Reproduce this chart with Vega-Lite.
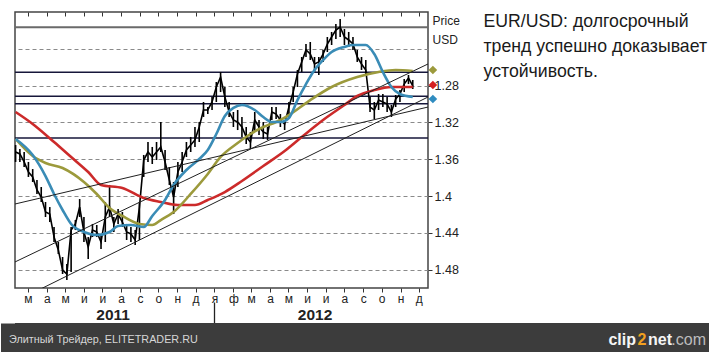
{
  "$schema": "https://vega.github.io/schema/vega-lite/v6.json",
  "background": "white",
  "padding": {"left": 0, "top": 10, "right": 0, "bottom": 0},
  "columns": 1,
  "align": "none",
  "spacing": -4,
  "config": {
    "font": "Liberation Sans",
    "view": {"stroke": null},
    "axis": {"labelFont": "Liberation Sans", "titleFont": "Liberation Sans"}
  },
  "datasets": {
    "price": [
      {"date": "2011-02-09", "min": 1.3446, "max": 1.3630, "close": 1.3522},
      {"date": "2011-02-16", "min": 1.3489, "max": 1.3630, "close": 1.3543},
      {"date": "2011-02-23", "min": 1.3522, "max": 1.3685, "close": 1.3630},
      {"date": "2011-03-02", "min": 1.3630, "max": 1.3793, "close": 1.3739},
      {"date": "2011-03-09", "min": 1.3707, "max": 1.3848, "close": 1.3793},
      {"date": "2011-03-16", "min": 1.3826, "max": 1.3978, "close": 1.3935},
      {"date": "2011-03-23", "min": 1.3902, "max": 1.4065, "close": 1.4011},
      {"date": "2011-03-30", "min": 1.4065, "max": 1.4228, "close": 1.4174},
      {"date": "2011-04-06", "min": 1.4120, "max": 1.4283, "close": 1.4196},
      {"date": "2011-04-13", "min": 1.4337, "max": 1.4500, "close": 1.4446},
      {"date": "2011-04-20", "min": 1.4500, "max": 1.4630, "close": 1.4587},
      {"date": "2011-04-27", "min": 1.4663, "max": 1.4848, "close": 1.4804},
      {"date": "2011-05-04", "min": 1.4739, "max": 1.4913, "close": 1.4848},
      {"date": "2011-05-11", "min": 1.4337, "max": 1.4826, "close": 1.4370},
      {"date": "2011-05-18", "min": 1.4261, "max": 1.4370, "close": 1.4304},
      {"date": "2011-05-25", "min": 1.4033, "max": 1.4228, "close": 1.4120},
      {"date": "2011-06-01", "min": 1.4228, "max": 1.4500, "close": 1.4391},
      {"date": "2011-06-08", "min": 1.4446, "max": 1.4685, "close": 1.4554},
      {"date": "2011-06-15", "min": 1.4304, "max": 1.4446, "close": 1.4370},
      {"date": "2011-06-22", "min": 1.4315, "max": 1.4446, "close": 1.4391},
      {"date": "2011-06-29", "min": 1.4413, "max": 1.4576, "close": 1.4500},
      {"date": "2011-07-06", "min": 1.4065, "max": 1.4500, "close": 1.4228},
      {"date": "2011-07-13", "min": 1.3880, "max": 1.4228, "close": 1.4120},
      {"date": "2011-07-20", "min": 1.4228, "max": 1.4391, "close": 1.4304},
      {"date": "2011-07-27", "min": 1.4141, "max": 1.4304, "close": 1.4196},
      {"date": "2011-08-03", "min": 1.4174, "max": 1.4337, "close": 1.4283},
      {"date": "2011-08-10", "min": 1.4304, "max": 1.4478, "close": 1.4391},
      {"date": "2011-08-17", "min": 1.4337, "max": 1.4500, "close": 1.4413},
      {"date": "2011-08-24", "min": 1.4370, "max": 1.4533, "close": 1.4478},
      {"date": "2011-08-31", "min": 1.4065, "max": 1.4478, "close": 1.4120},
      {"date": "2011-09-07", "min": 1.3554, "max": 1.3793, "close": 1.3609},
      {"date": "2011-09-14", "min": 1.3413, "max": 1.3630, "close": 1.3522},
      {"date": "2011-09-21", "min": 1.3467, "max": 1.3652, "close": 1.3576},
      {"date": "2011-09-28", "min": 1.3413, "max": 1.3609, "close": 1.3522},
      {"date": "2011-10-05", "min": 1.3196, "max": 1.3522, "close": 1.3467},
      {"date": "2011-10-12", "min": 1.3500, "max": 1.3717, "close": 1.3630},
      {"date": "2011-10-19", "min": 1.3685, "max": 1.3880, "close": 1.3826},
      {"date": "2011-10-26", "min": 1.3848, "max": 1.4196, "close": 1.4011},
      {"date": "2011-11-02", "min": 1.3630, "max": 1.3902, "close": 1.3739},
      {"date": "2011-11-09", "min": 1.3522, "max": 1.3739, "close": 1.3630},
      {"date": "2011-11-16", "min": 1.3413, "max": 1.3576, "close": 1.3500},
      {"date": "2011-11-23", "min": 1.3359, "max": 1.3522, "close": 1.3446},
      {"date": "2011-11-30", "min": 1.3250, "max": 1.3467, "close": 1.3391},
      {"date": "2011-12-07", "min": 1.3196, "max": 1.3413, "close": 1.3250},
      {"date": "2011-12-14", "min": 1.2978, "max": 1.3141, "close": 1.3065},
      {"date": "2011-12-21", "min": 1.3033, "max": 1.3109, "close": 1.3065},
      {"date": "2011-12-28", "min": 1.2924, "max": 1.3065, "close": 1.2978},
      {"date": "2012-01-04", "min": 1.2761, "max": 1.2978, "close": 1.2815},
      {"date": "2012-01-11", "min": 1.2652, "max": 1.2870, "close": 1.2707},
      {"date": "2012-01-18", "min": 1.2815, "max": 1.3033, "close": 1.2924},
      {"date": "2012-01-25", "min": 1.2978, "max": 1.3141, "close": 1.3087},
      {"date": "2012-02-01", "min": 1.3087, "max": 1.3250, "close": 1.3174},
      {"date": "2012-02-08", "min": 1.3065, "max": 1.3283, "close": 1.3196},
      {"date": "2012-02-15", "min": 1.3141, "max": 1.3359, "close": 1.3250},
      {"date": "2012-02-22", "min": 1.3250, "max": 1.3435, "close": 1.3359},
      {"date": "2012-02-29", "min": 1.3304, "max": 1.3489, "close": 1.3413},
      {"date": "2012-03-07", "min": 1.3087, "max": 1.3304, "close": 1.3174},
      {"date": "2012-03-14", "min": 1.3174, "max": 1.3337, "close": 1.3250},
      {"date": "2012-03-21", "min": 1.3196, "max": 1.3380, "close": 1.3304},
      {"date": "2012-03-28", "min": 1.3250, "max": 1.3391, "close": 1.3326},
      {"date": "2012-04-04", "min": 1.3033, "max": 1.3174, "close": 1.3087},
      {"date": "2012-04-11", "min": 1.3033, "max": 1.3163, "close": 1.3109},
      {"date": "2012-04-18", "min": 1.3109, "max": 1.3250, "close": 1.3174},
      {"date": "2012-04-25", "min": 1.3174, "max": 1.3283, "close": 1.3217},
      {"date": "2012-05-02", "min": 1.2978, "max": 1.3141, "close": 1.3033},
      {"date": "2012-05-09", "min": 1.2815, "max": 1.2978, "close": 1.2870},
      {"date": "2012-05-16", "min": 1.2630, "max": 1.2815, "close": 1.2674},
      {"date": "2012-05-23", "min": 1.2489, "max": 1.2652, "close": 1.2543},
      {"date": "2012-05-30", "min": 1.2348, "max": 1.2489, "close": 1.2413},
      {"date": "2012-06-06", "min": 1.2326, "max": 1.2522, "close": 1.2457},
      {"date": "2012-06-13", "min": 1.2489, "max": 1.2652, "close": 1.2565},
      {"date": "2012-06-20", "min": 1.2489, "max": 1.2685, "close": 1.2543},
      {"date": "2012-06-27", "min": 1.2413, "max": 1.2543, "close": 1.2457},
      {"date": "2012-07-04", "min": 1.2272, "max": 1.2435, "close": 1.2348},
      {"date": "2012-07-11", "min": 1.2217, "max": 1.2359, "close": 1.2272},
      {"date": "2012-07-18", "min": 1.2130, "max": 1.2293, "close": 1.2196},
      {"date": "2012-07-25", "min": 1.2076, "max": 1.2272, "close": 1.2163},
      {"date": "2012-08-01", "min": 1.2185, "max": 1.2359, "close": 1.2272},
      {"date": "2012-08-08", "min": 1.2217, "max": 1.2380, "close": 1.2304},
      {"date": "2012-08-15", "min": 1.2272, "max": 1.2413, "close": 1.2348},
      {"date": "2012-08-22", "min": 1.2413, "max": 1.2543, "close": 1.2489},
      {"date": "2012-08-29", "min": 1.2489, "max": 1.2630, "close": 1.2565},
      {"date": "2012-09-05", "min": 1.2522, "max": 1.2674, "close": 1.2630},
      {"date": "2012-09-12", "min": 1.2924, "max": 1.3087, "close": 1.3033},
      {"date": "2012-09-19", "min": 1.2978, "max": 1.3163, "close": 1.3065},
      {"date": "2012-09-26", "min": 1.2891, "max": 1.3065, "close": 1.2957},
      {"date": "2012-10-03", "min": 1.2891, "max": 1.3033, "close": 1.2978},
      {"date": "2012-10-10", "min": 1.2924, "max": 1.3087, "close": 1.3000},
      {"date": "2012-10-17", "min": 1.3011, "max": 1.3141, "close": 1.3087},
      {"date": "2012-10-24", "min": 1.2902, "max": 1.3033, "close": 1.2946},
      {"date": "2012-10-31", "min": 1.2848, "max": 1.2978, "close": 1.2891},
      {"date": "2012-11-07", "min": 1.2728, "max": 1.2870, "close": 1.2783},
      {"date": "2012-11-14", "min": 1.2685, "max": 1.2783, "close": 1.2717},
      {"date": "2012-11-21", "min": 1.2739, "max": 1.2837, "close": 1.2804}
    ],
    "ma": [
      {"series": "red", "date": "2011-02-09", "value": 1.3087},
      {"series": "red", "date": "2011-03-09", "value": 1.3217},
      {"series": "red", "date": "2011-04-13", "value": 1.3413},
      {"series": "red", "date": "2011-05-11", "value": 1.3576},
      {"series": "red", "date": "2011-06-08", "value": 1.3739},
      {"series": "red", "date": "2011-06-29", "value": 1.3880},
      {"series": "red", "date": "2011-08-03", "value": 1.3913},
      {"series": "red", "date": "2011-09-07", "value": 1.4022},
      {"series": "red", "date": "2011-10-05", "value": 1.4065},
      {"series": "red", "date": "2011-11-02", "value": 1.4098},
      {"series": "red", "date": "2011-11-30", "value": 1.4098},
      {"series": "red", "date": "2011-12-21", "value": 1.4043},
      {"series": "red", "date": "2012-01-18", "value": 1.3957},
      {"series": "red", "date": "2012-02-15", "value": 1.3837},
      {"series": "red", "date": "2012-03-21", "value": 1.3674},
      {"series": "red", "date": "2012-04-25", "value": 1.3511},
      {"series": "red", "date": "2012-05-23", "value": 1.3359},
      {"series": "red", "date": "2012-06-27", "value": 1.3174},
      {"series": "red", "date": "2012-08-01", "value": 1.3011},
      {"series": "red", "date": "2012-08-22", "value": 1.2913},
      {"series": "red", "date": "2012-09-19", "value": 1.2848},
      {"series": "red", "date": "2012-10-17", "value": 1.2815},
      {"series": "red", "date": "2012-11-21", "value": 1.2815},
      {"series": "olive", "date": "2011-02-09", "value": 1.3380},
      {"series": "olive", "date": "2011-03-09", "value": 1.3565},
      {"series": "olive", "date": "2011-03-30", "value": 1.3641},
      {"series": "olive", "date": "2011-04-27", "value": 1.3696},
      {"series": "olive", "date": "2011-06-01", "value": 1.3848},
      {"series": "olive", "date": "2011-06-22", "value": 1.3978},
      {"series": "olive", "date": "2011-07-13", "value": 1.4130},
      {"series": "olive", "date": "2011-08-03", "value": 1.4217},
      {"series": "olive", "date": "2011-08-31", "value": 1.4304},
      {"series": "olive", "date": "2011-09-21", "value": 1.4315},
      {"series": "olive", "date": "2011-10-05", "value": 1.4261},
      {"series": "olive", "date": "2011-10-26", "value": 1.4174},
      {"series": "olive", "date": "2011-11-23", "value": 1.3978},
      {"series": "olive", "date": "2011-12-21", "value": 1.3761},
      {"series": "olive", "date": "2012-01-11", "value": 1.3576},
      {"series": "olive", "date": "2012-02-08", "value": 1.3424},
      {"series": "olive", "date": "2012-02-29", "value": 1.3326},
      {"series": "olive", "date": "2012-03-21", "value": 1.3250},
      {"series": "olive", "date": "2012-04-11", "value": 1.3196},
      {"series": "olive", "date": "2012-05-02", "value": 1.3120},
      {"series": "olive", "date": "2012-06-06", "value": 1.2957},
      {"series": "olive", "date": "2012-07-11", "value": 1.2815},
      {"series": "olive", "date": "2012-08-22", "value": 1.2707},
      {"series": "olive", "date": "2012-09-26", "value": 1.2652},
      {"series": "olive", "date": "2012-10-24", "value": 1.2630},
      {"series": "olive", "date": "2012-11-21", "value": 1.2641},
      {"series": "blue", "date": "2011-02-09", "value": 1.3380},
      {"series": "blue", "date": "2011-03-09", "value": 1.3554},
      {"series": "blue", "date": "2011-03-30", "value": 1.3783},
      {"series": "blue", "date": "2011-04-13", "value": 1.3978},
      {"series": "blue", "date": "2011-04-27", "value": 1.4152},
      {"series": "blue", "date": "2011-05-11", "value": 1.4304},
      {"series": "blue", "date": "2011-06-01", "value": 1.4391},
      {"series": "blue", "date": "2011-06-22", "value": 1.4424},
      {"series": "blue", "date": "2011-07-13", "value": 1.4391},
      {"series": "blue", "date": "2011-07-27", "value": 1.4326},
      {"series": "blue", "date": "2011-08-17", "value": 1.4315},
      {"series": "blue", "date": "2011-09-07", "value": 1.4337},
      {"series": "blue", "date": "2011-09-21", "value": 1.4217},
      {"series": "blue", "date": "2011-10-12", "value": 1.4043},
      {"series": "blue", "date": "2011-10-26", "value": 1.3880},
      {"series": "blue", "date": "2011-11-16", "value": 1.3717},
      {"series": "blue", "date": "2011-12-07", "value": 1.3598},
      {"series": "blue", "date": "2011-12-21", "value": 1.3500},
      {"series": "blue", "date": "2012-01-04", "value": 1.3326},
      {"series": "blue", "date": "2012-01-18", "value": 1.3130},
      {"series": "blue", "date": "2012-02-01", "value": 1.3043},
      {"series": "blue", "date": "2012-02-15", "value": 1.3011},
      {"series": "blue", "date": "2012-03-07", "value": 1.3065},
      {"series": "blue", "date": "2012-03-21", "value": 1.3141},
      {"series": "blue", "date": "2012-04-04", "value": 1.3196},
      {"series": "blue", "date": "2012-04-18", "value": 1.3196},
      {"series": "blue", "date": "2012-05-02", "value": 1.3152},
      {"series": "blue", "date": "2012-05-16", "value": 1.2957},
      {"series": "blue", "date": "2012-05-30", "value": 1.2783},
      {"series": "blue", "date": "2012-06-13", "value": 1.2630},
      {"series": "blue", "date": "2012-06-27", "value": 1.2522},
      {"series": "blue", "date": "2012-07-11", "value": 1.2435},
      {"series": "blue", "date": "2012-08-01", "value": 1.2380},
      {"series": "blue", "date": "2012-08-15", "value": 1.2359},
      {"series": "blue", "date": "2012-09-05", "value": 1.2359},
      {"series": "blue", "date": "2012-09-19", "value": 1.2457},
      {"series": "blue", "date": "2012-10-03", "value": 1.2652},
      {"series": "blue", "date": "2012-10-17", "value": 1.2815},
      {"series": "blue", "date": "2012-10-31", "value": 1.2891},
      {"series": "blue", "date": "2012-11-21", "value": 1.2924}
    ],
    "ends": [
      {"series": "olive", "date": "2012-12-24", "value": 1.2630},
      {"series": "red", "date": "2012-12-24", "value": 1.2793},
      {"series": "blue", "date": "2012-12-24", "value": 1.2946}
    ],
    "levels": [
      {"kind": "top", "level": 1.2166},
      {"kind": "sr", "level": 1.2655},
      {"kind": "sr", "level": 1.2916},
      {"kind": "sr", "level": 1.2997},
      {"kind": "sr", "level": 1.3370}
    ],
    "trend": [
      {"line": "A", "date": "2011-02-08", "value": 1.4087},
      {"line": "A", "date": "2012-12-16", "value": 1.3033},
      {"line": "B", "date": "2011-02-08", "value": 1.4717},
      {"line": "B", "date": "2012-12-16", "value": 1.2565},
      {"line": "C", "date": "2011-03-22", "value": 1.5011},
      {"line": "C", "date": "2012-12-16", "value": 1.2924}
    ],
    "note": [
      {"label": "EUR/USD: долгосрочный\nтренд успешно доказывает\nустойчивость."}
    ],
    "footer": [
      {"side": "left", "part": "site", "label": "Элитный Трейдер, ELITETRADER.RU"},
      {"side": "right", "part": "com", "label": ".com"},
      {"side": "right", "part": "net", "label": "net"},
      {"side": "right", "part": "two", "label": "2"},
      {"side": "right", "part": "clip", "label": "clip"}
    ]
  },
  "concat": [
    {
      "spacing": 22,
      "hconcat": [
        {
          "width": 413,
          "height": 276,
          "view": {"stroke": "#444444", "strokeWidth": 1.5},
          "resolve": {
            "scale": {"color": "independent", "size": "independent"},
            "axis": {"x": "independent", "y": "independent"}
          },
          "layer": [
            {
              "data": {"name": "levels"},
              "mark": {"type": "rule"},
              "encoding": {
                "y": {
                  "field": "level", "type": "quantitative",
                  "scale": {"domain": [1.2, 1.5], "reverse": true, "zero": false, "nice": false},
                  "axis": {
                    "orient": "right",
                    "values": [1.24, 1.28, 1.32, 1.36, 1.4, 1.44, 1.48],
                    "labelExpr": "datum.value < 1.26 ? '' : format(datum.value, '.2~f')",
                    "grid": true,
                    "gridDash": [4, 3],
                    "gridColor": "#8a8a8a",
                    "gridWidth": 1,
                    "domain": false,
                    "tickSize": 4,
                    "tickColor": {"condition": {"test": "datum.value < 1.26", "value": "transparent"}, "value": "#333333"},
                    "labelFontSize": 12.5,
                    "labelColor": "#222222",
                    "labelPadding": 2,
                    "title": ["Price", "USD"],
                    "titleAngle": 0,
                    "titleAlign": "left",
                    "titleBaseline": "top",
                    "titleX": 4,
                    "titleY": 3,
                    "titleFontSize": 12,
                    "titleFontWeight": "normal",
                    "titleColor": "#222222",
                    "titleLineHeight": 19
                  }
                },
                "color": {"field": "kind", "type": "nominal", "scale": {"domain": ["top", "sr"], "range": ["#6a6a6a", "#16163a"]}, "legend": null},
                "size": {"field": "kind", "type": "nominal", "scale": {"domain": ["top", "sr"], "range": [2, 1.4]}, "legend": null}
              }
            },
            {
              "data": {"name": "price"},
              "mark": {"type": "rule", "color": "#000000", "strokeWidth": 1.6},
              "encoding": {
                "x": {
                  "field": "date", "type": "temporal",
                  "scale": {"type": "utc", "domain": [{"year": 2011, "month": 2, "date": 8, "utc": true}, {"year": 2012, "month": 12, "date": 16, "utc": true}]},
                  "axis": {
                    "orient": "bottom",
                    "tickCount": {"interval": "month", "step": 1},
                    "labelExpr": "['я','ф','м','а','м','и','и','а','с','о','н','д'][utcmonth(datum.value)]",
                    "grid": false,
                    "domain": false,
                    "tickSize": 4,
                    "tickColor": "#333333",
                    "labelFontSize": 12,
                    "labelColor": "#222222",
                    "labelPadding": 1,
                    "labelFlush": false,
                    "labelOverlap": false,
                    "title": null
                  }
                },
                "y": {"field": "min", "type": "quantitative", "axis": null},
                "y2": {"field": "max"}
              }
            },
            {
              "data": {"name": "price"},
              "mark": {"type": "line", "color": "#000000", "strokeWidth": 1.6},
              "encoding": {
                "x": {"field": "date", "type": "temporal", "axis": null},
                "y": {"field": "close", "type": "quantitative", "axis": null}
              }
            },
            {
              "data": {"name": "ma"},
              "mark": {"type": "line", "strokeWidth": 2.6, "interpolate": "monotone"},
              "encoding": {
                "x": {
                  "field": "date", "type": "temporal",
                  "axis": {
                    "orient": "bottom",
                    "offset": 14,
                    "values": [
                      {"year": 2011, "month": 7, "date": 18, "utc": true},
                      {"year": 2012, "month": 1, "date": 1, "utc": true},
                      {"year": 2012, "month": 6, "date": 13, "utc": true}
                    ],
                    "labelExpr": "utcmonth(datum.value) == 0 ? '' : utcFormat(datum.value, '%Y')",
                    "grid": false,
                    "domain": false,
                    "tickSize": 23,
                    "tickWidth": 1.3,
                    "tickColor": {"condition": {"test": "utcmonth(datum.value) == 0", "value": "#222222"}, "value": "transparent"},
                    "labelFontSize": 15.5,
                    "labelFontWeight": "bold",
                    "labelColor": "#222222",
                    "labelPadding": -18,
                    "labelFlush": false,
                    "labelOverlap": false,
                    "title": null
                  }
                },
                "y": {"field": "value", "type": "quantitative", "axis": null},
                "color": {"field": "series", "type": "nominal", "scale": {"domain": ["olive", "red", "blue"], "range": ["#9c9a3c", "#cc2a2a", "#3a8cb6"]}, "legend": null},
                "order": {"field": "date", "type": "temporal"}
              }
            },
            {
              "data": {"name": "trend"},
              "mark": {"type": "line", "color": "#202020", "strokeWidth": 1, "clip": true},
              "encoding": {
                "x": {
                  "field": "date", "type": "temporal",
                  "axis": {
                    "orient": "top",
                    "offset": -4,
                    "tickCount": {"interval": "month", "step": 1},
                    "labels": false,
                    "grid": false,
                    "domain": false,
                    "tickSize": 4,
                    "tickColor": "#333333",
                    "title": null
                  }
                },
                "y": {
                  "field": "value", "type": "quantitative",
                  "axis": {
                    "orient": "left",
                    "values": [1.2],
                    "labels": false,
                    "grid": false,
                    "domain": false,
                    "tickSize": 14,
                    "tickOpacity": 0,
                    "minExtent": 14,
                    "maxExtent": 14,
                    "title": null
                  }
                },
                "detail": {"field": "line", "type": "nominal"}
              }
            },
            {
              "data": {"name": "ends"},
              "mark": {"type": "point", "shape": "diamond", "filled": true, "opacity": 1, "size": 75, "clip": false},
              "encoding": {
                "x": {"field": "date", "type": "temporal", "axis": null},
                "y": {"field": "value", "type": "quantitative", "axis": null},
                "color": {"field": "series", "type": "nominal", "scale": {"domain": ["olive", "red", "blue"], "range": ["#9c9a3c", "#d41f1f", "#2f8cc0"]}, "legend": null}
              }
            }
          ]
        },
        {
          "width": 1,
          "height": 20,
          "data": {"name": "note"},
          "mark": {"type": "text", "align": "left", "baseline": "middle", "lineBreak": "\n", "fontSize": 17.7, "lineHeight": 25, "color": "#1a1a1a", "font": "Liberation Sans"},
          "encoding": {"text": {"field": "label", "type": "nominal"}}
        }
      ]
    },
    {
      "width": 695,
      "height": 29,
      "view": {"fill": "#3c3c3c", "stroke": null},
      "data": {"name": "footer"},
      "encoding": {
        "x": {"field": "side", "type": "nominal", "scale": {"type": "point", "domain": ["left", "right"], "padding": 0}, "axis": null},
        "y": {
          "datum": "bar", "type": "nominal",
          "scale": {"type": "point", "domain": ["bar"], "padding": 0.5},
          "axis": {
            "orient": "left",
            "offset": 7,
            "domain": true,
            "domainColor": "#3c3c3c",
            "domainWidth": 15,
            "ticks": false,
            "labels": false,
            "grid": false,
            "title": null
          }
        },
        "text": {"field": "label"}
      },
      "layer": [
        {
          "transform": [{"filter": "datum.part == 'site'"}],
          "mark": {"type": "text", "align": "left", "dx": -6, "dy": 2, "fontSize": 10.8, "color": "#d6d6d6", "font": "Liberation Sans"}
        },
        {
          "transform": [{"filter": "datum.part == 'com'"}],
          "mark": {"type": "text", "align": "right", "dx": -4, "dy": 2, "fontSize": 16, "color": "#bdbdbd", "font": "Liberation Sans"}
        },
        {
          "transform": [{"filter": "datum.part == 'net'"}],
          "mark": {"type": "text", "align": "right", "dx": -38, "dy": 2, "fontSize": 16, "fontWeight": "bold", "color": "#f5f5f5", "font": "Liberation Sans"}
        },
        {
          "transform": [{"filter": "datum.part == 'two'"}],
          "mark": {"type": "text", "align": "center", "dx": -68, "dy": 2, "fontSize": 16, "fontWeight": "bold", "color": "#f0a020", "font": "Liberation Sans"}
        },
        {
          "transform": [{"filter": "datum.part == 'clip'"}],
          "mark": {"type": "text", "align": "right", "dx": -74, "dy": 2, "fontSize": 16, "fontWeight": "bold", "color": "#f5f5f5", "font": "Liberation Sans"}
        }
      ]
    }
  ]
}
